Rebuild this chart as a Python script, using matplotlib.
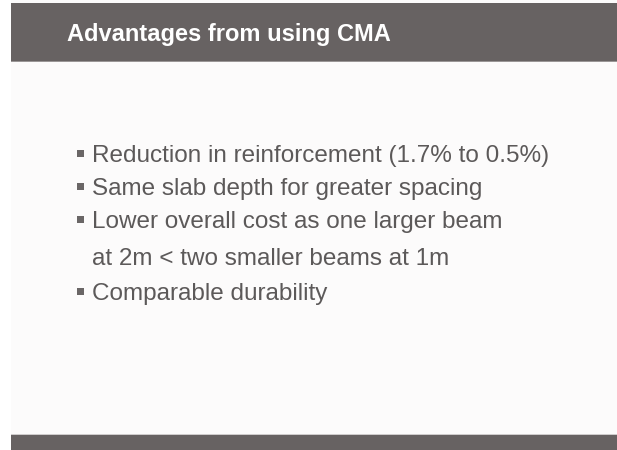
import matplotlib.pyplot as plt
from matplotlib.patches import Rectangle

W, H = 617, 450

title = "Advantages from using CMA"
bullets = [
    "Reduction in reinforcement (1.7% to 0.5%)",
    "Same slab depth for greater spacing",
    "Lower overall cost as one larger beam",
    "at 2m < two smaller beams at 1m",
    "Comparable durability",
]
has_marker = [True, True, True, False, True]
baseline_y = [162, 195, 228, 265, 300]

plt.rcParams['font.family'] = ['Liberation Sans', 'DejaVu Sans']

fig = plt.figure(figsize=(W / 100, H / 100), dpi=100)
fig.patch.set_facecolor('white')


def px(x, y):
    # pixel coords (top-left origin) -> figure fraction
    return x / W, 1 - y / H


def box(x0, y0, x1, y1, color):
    fig.patches.append(Rectangle((x0 / W, 1 - y1 / H), (x1 - x0) / W, (y1 - y0) / H,
                                 transform=fig.transFigure, color=color, lw=0))


# slide background, header bar and footer bar
box(11, 0, W, H, '#fcfbfb')
box(11, 3, W, 61, '#676262')
box(11, 61, W, 62, '#9a9696')
box(11, 434, W, 435, '#cfcccc')
box(11, 435, W, H, '#676262')

fig.text(*px(67, 41), title, color='white', fontsize=17, fontweight='bold',
         va='baseline', ha='left')

for txt, y, m in zip(bullets, baseline_y, has_marker):
    if m:
        box(77, y - 12, 84, y - 5, '#6a6666')
    fig.text(*px(92, y), txt, color='#5c5959', fontsize=17.5, va='baseline', ha='left')

fig.savefig('out.png', dpi=100)
